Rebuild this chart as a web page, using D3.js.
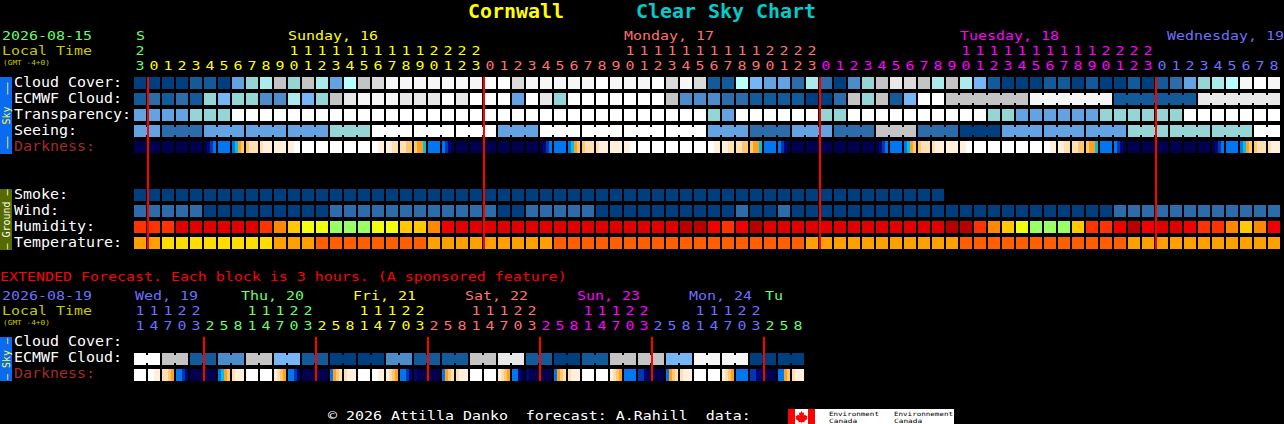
<!DOCTYPE html>
<html>
<head>
<meta charset="utf-8">
<script src="https://cdn.jsdelivr.net/npm/d3@7/dist/d3.min.js"></script>
<style>
html,body{margin:0;padding:0;background:#000;overflow:hidden}
svg{display:block}
text{font-family:"DejaVu Sans Mono",monospace;white-space:pre}
</style>
</head>
<body>
<div id="chart"></div>
<script>
// ---------- data ----------
const cloudLevels = ["#003f7f","#135a9b","#2c6cab","#4c8ccb","#63a3e3","#76b6f6","#95d5d5","#abebeb","#b8ffff","#c4c4c4","#dadada","#e8e8e8","#f6f6f6","#ffffff"];
const cloudCover = [
 0,0,0,0,1,1,0,4,6,7, 9,6,9,7,4,8,9,10,12,12,
 12,12,12,12,12,13,13,10,12,12, 12,12,12,13,12,12,12,13,10,12,
 10,1,1,8,5,4,4,2,7,2, 0,3,6,9,11,10,9,7,9,7,
 5,1,0,0,0,1,1,0,1,0, 0,1,0,1,2,4,6,7,8,12,
 13,12];
const ecmwfCloud = [
 1,2,1,2,1,6,5,6,6,3, 3,7,5,6,9,11,12,12,12,11,
 11,11,13,11,13,13,13,4,13,11, 6,13,13,13,13,13,13,13,9,3,
 3,3,2,2,1,1,1,1,0,0, 2,9,6,9,1,5,13,13,9,9,
 9,9,9,9,12,12,12,12,12,12, 1,1,1,1,1,1,11,11,11,11,
 11,11];
const ecmwfBlocks = [[58,63],[64,69],[70,75],[76,81]];
const transparency = [
 4,4,4,4,6,6,6,13,13,13, 13,13,13,13,13,13,13,13,13,13,
 13,13,13,13,13,13,13,13,13,13, 13,13,13,13,13,13,13,13,13,13,
 13,6,4,13,13,13,13,13,13,6, 6,13,13,13,13,13,13,13,13,13,
 13,6,6,4,4,4,4,4,4,6, 6,6,6,6,6,13,13,13,13,13,
 13,13];
// each block: first column, last column, level
const seeingBlocks = [
 [0,1,4],[2,4,2],[5,7,4],[8,10,4],[11,13,4],[14,16,6],[17,19,13],[20,22,13],[23,25,13],[26,28,4],
 [29,31,13],[32,34,13],[35,37,13],[38,40,13],[41,43,4],[44,46,2],[47,49,4],[50,52,2],[53,55,9],[56,58,2],
 [59,61,0],[62,64,4],[65,67,4],[68,70,4],[71,73,6],[74,76,6],[77,79,6],[80,81,13]];
const darkLevels = ["#00004f","#00057a","#0036b0","#0076f0","#00c0e0","#ffa020","#ffc870","#ffe0b4","#fff0dc","#ffffff"];
// four samples across each block
const darkness = [
 "0000","0000","0000","0000","0000","0123","3333","3456","6777","7888",
 "8888","8899","9999","9999","9999","9999","9999","9988","8877","7766",
 "6554","3333","3210","0000","0000","0000","0000","0000","0000","0123",
 "3333","3456","6777","7888","8888","8899","9999","9999","9999","9999",
 "9999","9988","8877","7766","6554","3333","3210","0000","0000","0000",
 "0000","0000","0000","0123","3333","3456","6777","7888","8888","8899",
 "9999","9999","9999","9999","9999","9988","8877","7766","6554","3333",
 "3210","0000","0000","0000","0000","0000","0000","0123","3333","3456",
 "6777","7888"];
const smoke = [
 0,0,0,0,0,0,0,0,0,0, 0,0,0,0,0,0,0,0,0,0,
 0,0,0,0,0,0,0,0,0,0, 0,0,0,0,0,0,0,0,0,0,
 0,0,0,0,0,0,0,0,0,0, 0,0,0,0,0,0,0,0];
const wind = [
 2,2,2,2,2,0,0,0,0,0, 0,0,0,0,2,2,2,2,2,2,
 2,2,2,2,2,2,0,0,2,2, 2,2,2,0,0,0,0,0,0,0,
 0,0,0,2,0,0,2,0,0,0, 0,0,0,0,0,0,0,0,0,0,
 0,0,0,0,0,0,0,0,0,0, 2,2,2,2,2,2,2,2,2,2,
 2,2];
const humidityLevels = ["#b80000","#e00000","#f00000","#ff3300","#ff8800","#ffc800","#f0ff10","#99ff66"];
const humidity = [
 3,3,3,1,1,1,1,1,1,3, 4,5,6,6,7,7,7,6,6,5,
 5,4,2,1,1,1,1,1,1,1, 1,1,1,1,1,1,1,1,1,0,
 0,2,3,2,0,1,1,1,1,1, 1,1,1,1,1,1,1,1,0,0,
 3,4,5,6,7,7,7,5,3,3, 2,0,2,1,1,2,3,3,4,5,
 4,2];
const tempLevels = ["#ff5f00","#ffa000","#ffdd00"];
const temperature = [
 1,1,2,2,2,2,2,2,2,2, 1,1,1,0,0,0,0,0,0,0,
 0,1,1,1,1,1,1,1,1,1, 0,0,0,0,0,0,0,0,0,0,
 0,0,0,0,0,0,0,0,1,1, 1,1,1,1,1,1,1,1,1,0,
 0,0,0,0,0,0,0,0,0,0, 0,1,1,1,1,1,1,1,1,1,
 1,1];
const hours = [23,0,1,2,3,4,5,6,7,8,9,10,11,12,13,14,15,16,17,18,19,20,21,22,23,
 0,1,2,3,4,5,6,7,8,9,10,11,12,13,14,15,16,17,18,19,20,21,22,23,
 0,1,2,3,4,5,6,7,8,9,10,11,12,13,14,15,16,17,18,19,20,21,22,23,
 0,1,2,3,4,5,6,7,8];
const hourSpans = [[0,0,"#66ff66"],[1,24,"#ffff00"],[25,48,"#ff7070"],[49,72,"#ff00ff"],[73,81,"#6f6fff"]];
const dayLabels = [
 ["S",136,"#66ff66"],["Sunday, 16",288,"#ffff00"],["Monday, 17",624,"#ff7070"],
 ["Tuesday, 18",960,"#ff00ff"],["Wednesday, 19",1167,"#6f6fff"]];
const rowLabels = ["Cloud Cover:","ECMWF Cloud:","Transparency:","Seeing:","Darkness:"];
const groundLabels = ["Smoke:","Wind:","Humidity:","Temperature:"];

const extHours = [11,14,17,20,23,2,5,8,11,14,17,20,23,2,5,8,11,14,17,20,23,2,5,8,
 11,14,17,20,23,2,5,8,11,14,17,20,23,2,5,8,11,14,17,20,23,2,5,8];
const extSpans = [[0,4,"#6f6fff"],[5,12,"#66ff66"],[13,20,"#ffff00"],[21,28,"#ff7070"],[29,36,"#ff00ff"],[37,44,"#6f6fff"],[45,47,"#66ff66"]];
const extDayLabels = [
 ["Wed, 19",135,"#6f6fff"],["Thu, 20",241,"#66ff66"],["Fri, 21",353,"#ffff00"],["Sat, 22",465,"#ff7070"],
 ["Sun, 23",577,"#ff00ff"],["Mon, 24",689,"#6f6fff"],["Tu",765,"#66ff66"]];
const extEcmwf = [13,9,1,3,9,5,1,0,0,3,1,1,9,11,1,0,1,9,9,5,12,12,0,0];
const extDarkness = [
 "9999","9988","7765","3321","0000","0000","3456","7888","9999","9999",
 "8765","3321","0000","0000","3567","7888","9999","9988","8765","3321",
 "1000","0000","3567","7888","9999","9999","8765","3310","1000","0000",
 "3567","7888","9999","9999","8765","3333","2210","0000","3567","7888",
 "9999","9999","8765","3333","2211","0000","3356","7888"];
const midnightCols = [1,25,49,73];
const extMidnightCols = [5,13,21,29,37,45];

// ---------- drawing ----------
const svg = d3.select("#chart").append("svg").attr("width",1284).attr("height",424);
const x = d3.scaleBand().domain(d3.range(82)).range([134,1280]).paddingInner(1/7).paddingOuter(0);
const xExt = d3.scaleBand().domain(d3.range(48)).range([134,804]).paddingInner(1/7).paddingOuter(0);
const cloudScale = d3.scaleOrdinal().domain(d3.range(cloudLevels.length)).range(cloudLevels);
const darkScale = d3.scaleOrdinal().domain(d3.range(darkLevels.length)).range(darkLevels);
const humidityScale = d3.scaleOrdinal().domain(d3.range(humidityLevels.length)).range(humidityLevels);
const tempScale = d3.scaleOrdinal().domain(d3.range(tempLevels.length)).range(tempLevels);
const rowY = d3.scalePoint().domain(["cloud","ecmwf","transp","seeing","dark"]).range([77,141]);
const groundY = d3.scalePoint().domain(["smoke","wind","humidity","temp"]).range([189,237]);
const extY = d3.scalePoint().domain(["ecmwf","dark"]).range([353,369]);
const H = 12;
const MONO = 0.602, SMALL = 12.8, ROW = 13.5, CHAR = 9;

function cells(values, y, color, scale){
  svg.append("g").selectAll("rect").data(values).join("rect")
    .attr("x",(d,i)=>scale(i)).attr("y",y).attr("width",scale.bandwidth()).attr("height",H)
    .attr("fill",d=>color(d));
}
function bridges(blocks, y, colorOf, scale){
  const g = svg.append("g");
  blocks.forEach(([a,b],k)=>{
    d3.range(a,b).forEach(c=>{
      g.append("rect").attr("x",scale(c)+scale.bandwidth()).attr("y",y+2)
        .attr("width",scale.step()-scale.bandwidth()).attr("height",8).attr("fill",colorOf(k,c));
    });
  });
}
function darkCells(values, y, scale){
  const g = svg.append("g");
  const n = 4, w = scale.bandwidth()/n;
  values.forEach((s,i)=>{
    g.selectAll(null).data(s.split("").map(Number)).join("rect")
      .attr("x",(d,j)=>scale(i)+j*w).attr("y",y).attr("width",w+0.02).attr("height",H)
      .attr("fill",d=>darkScale(d)).attr("shape-rendering","crispEdges");
  });
}
// text stretched horizontally so each character takes charW pixels
function label(t,px,py,size,fill,charW,bold){
  const sx = charW/(size*MONO);
  return svg.append("text").attr("transform",`translate(${px},${py}) scale(${sx},1)`)
    .attr("font-size",size).attr("fill",fill).attr("font-weight",bold?"bold":"normal").text(t);
}
function digitAxis(scale, ticks, fmt, baseline, spans){
  const g = svg.append("g").call(d3.axisBottom(scale).tickValues(ticks).tickSize(0).tickFormat(fmt));
  g.select(".domain").remove();
  g.selectAll("text").attr("y",baseline).attr("dy",null).attr("font-size",SMALL)
    .attr("transform",`scale(${CHAR/(SMALL*MONO)},1)`)
    .attr("font-family",'"DejaVu Sans Mono",monospace')
    .attr("fill",c=>spans.find(s=>c>=s[0]&&c<=s[1])[2]);
}

// title
label("Cornwall",468,18,20,"#ffff00",12,true);
label("Clear Sky Chart",636,18,20,"#00cccc",12,true);

// header
label("2026-08-15",2,40,SMALL,"#66ff66",CHAR);
label("Local Time",2,55,SMALL,"#c8c800",CHAR);
label("(GMT -4+0)",3,65,7,"#c8c800",4.7);
dayLabels.forEach(d=>label(d[0],d[1],40,SMALL,d[2],CHAR));
digitAxis(x, d3.range(82).filter(c=>hours[c]>=10), c=>Math.floor(hours[c]/10), 55, hourSpans);
digitAxis(x, d3.range(82), c=>hours[c]%10, 70, hourSpans);

// labels
rowLabels.forEach((t,i)=>label(t,14,86.5+16*i,ROW,t==="Darkness:"?"#a52a2a":"#ffffff",CHAR));
groundLabels.forEach((t,i)=>label(t,14,198.5+16*i,ROW,"#ffffff",CHAR));

// sky rows
cells(cloudCover,rowY("cloud"),cloudScale,x);
cells(ecmwfCloud,rowY("ecmwf"),cloudScale,x);
bridges(ecmwfBlocks,rowY("ecmwf"),(k,c)=>cloudScale(ecmwfCloud[c]),x);
cells(transparency,rowY("transp"),cloudScale,x);
const seeing = d3.range(82).map(c=>seeingBlocks.find(b=>c>=b[0]&&c<=b[1])[2]);
cells(seeing,rowY("seeing"),cloudScale,x);
bridges(seeingBlocks,rowY("seeing"),(k)=>cloudScale(seeingBlocks[k][2]),x);
darkCells(darkness,rowY("dark"),x);

// ground rows
cells(smoke,groundY("smoke"),cloudScale,x);
cells(wind,groundY("wind"),cloudScale,x);
cells(humidity,groundY("humidity"),humidityScale,x);
cells(temperature,groundY("temp"),tempScale,x);

// midnight lines
svg.append("g").selectAll("rect").data(midnightCols).join("rect")
  .attr("x",c=>x(c)-1).attr("y",rowY("cloud")).attr("width",2).attr("height",172).attr("fill","#ff0000");

// side bars
function sideBar(y0,h,fill,txtFill,txt){
  svg.append("rect").attr("x",0).attr("y",y0).attr("width",12).attr("height",h).attr("fill",fill);
  svg.append("text").attr("transform",`translate(9.5,${y0+h/2}) rotate(-90)`)
    .attr("text-anchor","middle").attr("font-size",10).attr("fill",txtFill).text(txt);
}
sideBar(77,77,"#0a6af0","#ffff33"," ––  Sky  –– ");
sideBar(189,61,"#556b00","#ffffff","– Ground –");

// extended
label("EXTENDED Forecast. Each block is 3 hours. (A sponsored feature)",0,281,SMALL,"#ff0000",CHAR);
label("2026-08-19",2,300,SMALL,"#6f6fff",CHAR);
label("Local Time",2,315,SMALL,"#c8c800",CHAR);
label("(GMT -4+0)",3,325,7,"#c8c800",4.7);
extDayLabels.forEach(d=>label(d[0],d[1],300,SMALL,d[2],CHAR));
digitAxis(xExt, d3.range(48).filter(c=>extHours[c]>=10), c=>Math.floor(extHours[c]/10), 315, extSpans);
digitAxis(xExt, d3.range(48), c=>extHours[c]%10, 330, extSpans);
["Cloud Cover:","ECMWF Cloud:","Darkness:"].forEach((t,i)=>label(t,14,345.5+16*i,ROW,t==="Darkness:"?"#a52a2a":"#ffffff",CHAR));
const extCols = d3.range(48).map(c=>extEcmwf[Math.floor(c/2)]);
cells(extCols,extY("ecmwf"),cloudScale,xExt);
bridges(extEcmwf.map((v,k)=>[2*k,2*k+1]),extY("ecmwf"),(k)=>cloudScale(extEcmwf[k]),xExt);
darkCells(extDarkness,extY("dark"),xExt);
svg.append("g").selectAll("rect").data(extMidnightCols).join("rect")
  .attr("x",c=>xExt(c)-1).attr("y",337).attr("width",2).attr("height",44).attr("fill","#ff0000");
sideBar(337,44,"#0a6af0","#ffff33","– Sky –");

// footer
label("© 2026 Attilla Danko  forecast: A.Rahill  data:",328,420,SMALL,"#ffffff",CHAR);
svg.append("rect").attr("x",788).attr("y",409).attr("width",166).attr("height",15).attr("fill","#ffffff");
svg.append("rect").attr("x",788).attr("y",409).attr("width",7).attr("height",15).attr("fill","#ff0000");
svg.append("rect").attr("x",808).attr("y",409).attr("width",7).attr("height",15).attr("fill","#ff0000");
svg.append("path").attr("d","M801.5 411l1.2 2 1.4-.5-.5 3 1.8-1 .6 1.4 1.6-.2-.8 2.4 1 .6-3.4 2.2.4 1.4-3 -.4v1.6h-.6v-1.6l-3 .4.4-1.4-3.4-2.2 1-.6-.8-2.4 1.6.2.6-1.4 1.8 1-.5-3 1.4.5z").attr("fill","#ff0000");
label("Environment",829,416,5.9,"#000000",4.55);
label("Canada",829,423,5.9,"#000000",4.7);
label("Environnement",894,416,5.9,"#000000",4.55);
label("Canada",894,423,5.9,"#000000",4.7);
</script>
</body>
</html>
